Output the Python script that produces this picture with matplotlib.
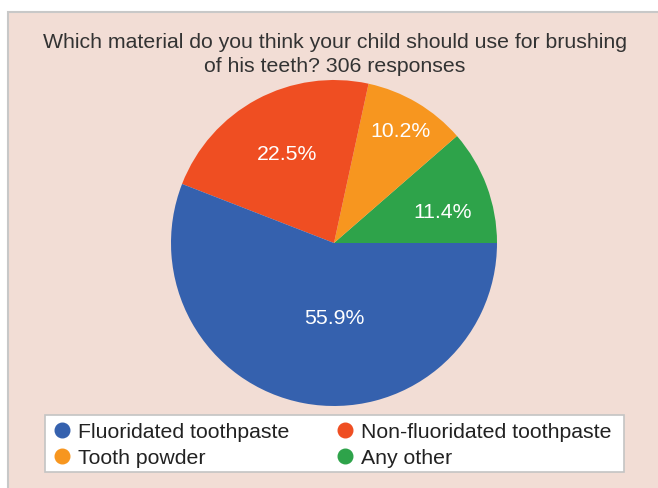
import numpy as np
import matplotlib
matplotlib.use("Agg")
import matplotlib.pyplot as plt
from matplotlib.patches import Rectangle

plt.rcParams["font.family"] = ["Liberation Sans", "DejaVu Sans"]

# survey answers, in drawing order (counter-clockwise from 3 o'clock)
categories = ["Any other", "Tooth powder", "Non-fluoridated toothpaste", "Fluoridated toothpaste"]
shares = [11.4, 10.2, 22.5, 55.9]
colors = ["#2ea34a", "#f7961f", "#ef4e22", "#3561ae"]
# where each percentage sits: fraction of radius, and turn from mid-angle (deg)
label_radius = [0.695, 0.80, 0.62, 0.455]
label_turn = [-4.6, 0, -0.5, 11.2]

# legend order: row by row
legend_order = ["Fluoridated toothpaste", "Non-fluoridated toothpaste", "Tooth powder", "Any other"]

title = "Which material do you think your child should use for brushing\nof his teeth? 306 responses"

W, H = 658, 489
FS = 15.3
fig = plt.figure(figsize=(W / 100, H / 100), dpi=100, facecolor="white")

# overlay in pixel coordinates for background, title and legend
bg = fig.add_axes([0, 0, 1, 1])
bg.set_xlim(0, W)
bg.set_ylim(H, 0)
bg.axis("off")
bg.add_patch(Rectangle((8, 13), W + 20, H + 20, facecolor="#f2ddd5",
                       edgecolor="#c8c8c8", linewidth=1.5))
bg.text(335, 42, title.split("\n")[0], ha="center", va="center", fontsize=FS, color="#333333")
bg.text(335, 66, title.split("\n")[1], ha="center", va="center", fontsize=FS, color="#333333")

# legend box
bg.add_patch(Rectangle((45, 416), 579, 57, facecolor="white",
                       edgecolor="#c4c4c4", linewidth=1.2, zorder=2))
col_x = [62, 345]
row_y = [431, 457]
for i, name in enumerate(legend_order):
    x = col_x[i % 2]
    y = row_y[i // 2]
    c = colors[categories.index(name)]
    bg.plot([x], [y], marker="o", markersize=10.5, color=c, zorder=3)
    bg.text(x + 16, y + 1, name, ha="left", va="center", fontsize=FS,
            color="#222222", zorder=3)

# pie, centre (334, 244), radius 163 px
cx, cy, r = 334, 244, 163
ax = fig.add_axes([(cx - r) / W, (H - cy - r) / H, 2 * r / W, 2 * r / H])
wedges, _ = ax.pie(shares, colors=colors, startangle=0, counterclock=True,
                   wedgeprops=dict(linewidth=0))
ax.set_xlim(-1, 1)
ax.set_ylim(-1, 1)

for w, share, rad, turn in zip(wedges, shares, label_radius, label_turn):
    mid = np.deg2rad((w.theta1 + w.theta2) / 2 + turn)
    ax.text(rad * np.cos(mid), rad * np.sin(mid), f"{share}%",
            ha="center", va="center", fontsize=FS, color="white")

fig.savefig("out.png", dpi=100, facecolor="white")
